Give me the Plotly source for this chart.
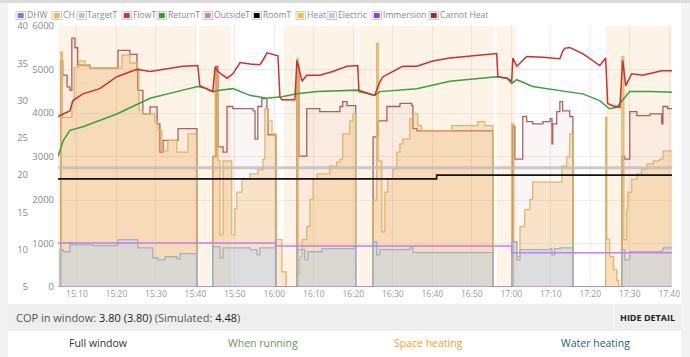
import plotly.graph_objects as go
import pandas as pd

BASE = pd.Timestamp("2024-01-15 15:00:00")

# ---------------- data (time = minutes after 15:00) ----------------
ch_t = [5.2, 40.1, 40.9, 49.0, 62.4, 80.9, 81.4, 115.6, 116.3, 121.1, 143.9, 160.7]
ch_on = [1, 0, 1, 0, 1, 0, 1, 0, 1, 0, 1, 1]

flow_t = [5.2, 5.7, 8.2, 9.0, 11.5, 15.8, 20.1, 25.2, 28.5, 32.8, 36.8, 40.6, 41.1, 44.4, 45.0,
          45.7, 48.0, 49.5, 51.3, 53.8, 56.3, 57.1, 58.1, 60.9, 61.4, 61.9, 65.2, 65.7, 67.0, 68.2,
          71.5, 74.8, 78.4, 81.1, 81.4, 85.4, 86.7, 87.5, 90.0, 92.5, 96.1, 100.1, 104.4, 108.7, 112.8,
          116.3, 116.6, 118.9, 120.1, 120.4, 121.4, 123.9, 128.0, 132.3, 133.0, 133.5, 134.8, 138.1,
          142.4, 143.9, 144.4, 145.7, 147.5, 148.2, 149.0, 150.5, 153.3, 158.1, 160.7]
flow_c = [27.8, 28.0, 28.6, 30.0, 30.9, 31.6, 33.2, 34.2, 33.9, 34.3, 34.6, 34.7, 32.0, 31.2, 34.5,
          33.9, 33.0, 33.6, 35.1, 34.9, 34.8, 35.4, 36.4, 36.0, 30.5, 30.1, 30.1, 35.4, 32.6, 33.4,
          33.4, 33.9, 34.6, 34.7, 31.4, 30.7, 32.5, 33.2, 33.9, 34.6, 34.6, 35.3, 35.7, 35.9, 36.1,
          36.3, 33.2, 33.0, 32.6, 35.7, 34.6, 35.9, 35.8, 35.6, 36.6, 37.0, 37.1, 36.3,
          34.7, 35.7, 29.6, 29.3, 29.1, 35.4, 32.0, 33.6, 33.4, 34.0, 34.0]

ret_t = [5.2, 6.5, 8.2, 11.5, 20.1, 28.5, 36.8, 40.6, 42.9, 44.4, 46.2, 49.5, 53.8, 58.1, 61.9,
         65.7, 70.8, 81.1, 81.4, 85.4, 86.7, 96.1, 104.4, 116.3, 118.9, 120.1, 121.4, 125.4, 134.0,
         138.1, 142.4, 144.9, 146.7, 148.2, 150.0, 155.1, 160.7]
ret_c = [22.5, 24.6, 26.0, 26.5, 28.2, 30.3, 31.4, 31.9, 31.6, 31.2, 31.4, 31.6, 30.7, 30.3, 30.5,
         30.9, 31.2, 31.4, 31.2, 30.7, 31.2, 31.6, 32.6, 33.2, 33.0, 32.3, 32.8, 31.9, 31.2,
         30.9, 30.0, 28.9, 29.1, 30.0, 31.2, 31.2, 31.1]

target_t = [5.2, 160.7]
target_c = [21.0, 21.0]

room_t = [5.2, 101.1, 160.7]
room_c = [19.5, 20.0, 20.0]

out_t = [5.2, 60.4, 120.1, 160.7]
out_c = [10.9, 10.5, 9.6, 9.6]

el_t = [5.2, 5.7, 6.5, 8.2, 8.7, 14.0, 20.1, 20.4, 25.2, 25.4, 29.2, 30.5, 32.3, 35.3, 36.1,
        40.4, 44.4, 46.2, 47.0, 53.8, 55.6, 56.3, 60.4, 65.9, 67.7, 68.5, 72.0, 80.4, 80.6, 85.0,
        85.9, 86.7, 94.3, 95.1, 115.3, 120.1, 121.4, 122.2, 129.8, 130.3, 131.0, 132.3, 135.6, 148.0,
        148.7, 150.0, 158.1, 158.4, 160.7]
el_w = [0, 860, 810, 1020, 970, 950, 970, 1090, 1090, 900, 670, 625, 695, 650, 765,
        0, 930, 670, 900, 860, 740, 900, 0, 860, 625, 810, 880, 930, 0, 1040,
        740, 860, 900, 790, 0, 1040, 625, 860, 880, 740, 880, 900, 0, 860,
        625, 810, 834, 900, 900]

heat_t = [5.2, 5.9, 6.3, 8.7, 9.3, 10.5, 12.0, 13.3, 21.4, 23.4, 25.2, 25.7, 26.7, 29.7, 30.5,
          31.5, 33.0, 35.3, 38.1, 40.4, 44.4, 45.0, 45.7, 46.2, 47.0, 49.2, 50.0, 50.5, 51.8, 53.8,
          55.8, 57.1, 57.6, 58.4, 59.4, 60.4, 61.9, 63.0, 65.7, 66.0, 66.5, 67.0, 68.2, 69.0, 69.8,
          70.8, 74.0, 75.8, 76.6, 77.3, 79.1, 79.9, 80.6, 85.0, 85.9, 86.3, 87.2, 88.0, 88.7, 90.0,
          91.0, 91.8, 92.5, 94.3, 95.1, 96.3, 97.3, 104.9, 111.5, 113.3, 115.3, 120.1, 120.6, 121.4,
          122.2, 123.4, 124.7, 125.4, 132.8, 134.0, 134.8, 135.6, 143.9, 144.2, 144.9, 145.9, 146.7,
          147.2, 148.0, 148.5, 149.2, 149.5, 150.5, 151.8, 153.0, 154.3, 156.0, 157.6, 158.4, 160.7]
heat_w = [0, 5400, 3900, 4250, 5050, 5200, 5080, 5030, 5330, 5150, 5030, 4060, 3980, 3790, 3600,
          3130, 3370, 3100, 3520, 0, 3000, 5000, 2900, 1200, 2900, 1200, 1800, 2180, 2480, 2600,
          2700, 2940, 4100, 3820, 3520, 1090, 350, 0, 5250, 300, 700, 1090, 1390, 2015, 2480,
          2600, 2780, 2870, 2940, 3520, 3820, 3980, 0, 2000, 5600, 2900, 1270, 2180, 2480, 2710,
          3100, 3290, 3400, 3870, 3980, 3710, 3590, 3710, 3800, 3710, 0, 3750, 1040, 700,
          1390, 1780, 2015, 2410, 2780, 2990, 3520, 0, 3900, 1100, 700, 400, 150,
          0, 5300, 1090, 1780, 2180, 2480, 2600, 2710, 2830, 2900, 2940, 3130, 3130]

car_t = [5.2, 5.9, 6.4, 7.5, 8.2, 8.7, 9.5, 10.2, 13.3, 20.4, 23.4, 25.2, 25.4, 26.7, 28.5,
         30.3, 31.0, 31.8, 35.6, 40.4, 44.4, 45.2, 45.7, 47.0, 48.0, 49.5, 54.6, 55.1, 55.8, 56.8,
         58.1, 58.4, 60.4, 65.7, 66.2, 68.2, 71.5, 76.6, 77.3, 78.4, 80.6, 85.0, 86.2, 88.5, 91.8,
         94.8, 95.1, 96.1, 115.3, 120.4, 120.9, 122.9, 123.9, 125.4, 128.0, 129.8, 130.3, 130.5,
         131.5, 132.3, 133.0, 134.8, 135.6, 148.0, 148.7, 150.0, 151.8, 155.1, 158.1, 158.4,
         159.6, 160.7]
car_w = [0, 5200, 4870, 4600, 4520, 5720, 5500, 5100, 5030, 5440, 5350, 4980, 4520, 3980, 4140,
         3750, 3100, 3370, 3640, 0, 3000, 5070, 3220, 3100, 4150, 4100, 4050, 3400, 4150, 4330,
         4100, 3500, 0, 5070, 3010, 4100, 4030, 4150, 4260, 4170, 0, 3450, 3820, 4150, 4220,
         4170, 3640, 3590, 0, 3700, 2940, 3920, 3800, 3750, 3800, 3870, 3290, 3750,
         4030, 4260, 4050, 3920, 0, 3000, 2940, 4030, 3940, 3980, 3750, 4150,
         4100, 4100]

imm_t = [5.2, 160.7]
imm_w = [0, 0]

temp_ticks = [5, 10, 15, 20, 25, 30, 35, 40]
power_ticks = [0, 1000, 2000, 3000, 4000, 5000, 6000]

legend_names = ["DHW", "CH", "TargetT", "FlowT", "ReturnT", "OutsideT", "RoomT",
                "Heat", "Electric", "Immersion", "Carnot Heat"]
legend_colors = ["#6f7fe6", "#f7b462", "#c4c4c4", "#d6322e", "#2aa02a", "#c27bf2", "#000000",
                 "#f2c230", "#a8d2f7", "#8c3cf0", "#a32a2a"]

cop_window = "3.80 (3.80)"
cop_sim = "4.48"
summary_heads = ["Full window", "When running", "Space heating", "Water heating"]
summary_vals = ["3.80 (3.80)", "3.80", "3.80", ""]

# ---------------- layout helpers ----------------
W, H = 690, 357
ML, MR, MT, MB = 0, 18, 26, 70
PW, PH = W - ML - MR, H - MT - MB


def px(x):
    return (x - ML) / PW


def py(y):
    return (H - MB - y) / PH


def X(mins):
    return [BASE + pd.Timedelta(minutes=m) for m in mins]


FONT = "Open Sans"

fig = go.Figure()

# CH background
fig.add_trace(go.Scatter(x=X(ch_t), y=ch_on, yaxis="y", mode="lines",
                         line=dict(width=0, shape="hv"), fill="tozeroy",
                         fillcolor="rgba(247,172,85,0.14)", hoverinfo="skip"))

# power series
fig.add_trace(go.Scatter(x=X(car_t), y=car_w, yaxis="y2", mode="lines",
                         line=dict(color="rgba(160,70,70,0.85)", width=1.3, shape="hv"),
                         fill="tozeroy", fillcolor="rgba(175,70,70,0.05)", hoverinfo="skip"))
fig.add_trace(go.Scatter(x=X(heat_t), y=heat_w, yaxis="y2", mode="lines",
                         line=dict(color="rgba(222,180,100,0.95)", width=1.3, shape="hv"),
                         fill="tozeroy", fillcolor="rgba(240,172,70,0.26)", hoverinfo="skip"))
fig.add_trace(go.Scatter(x=X(el_t), y=el_w, yaxis="y2", mode="lines",
                         line=dict(color="rgba(150,178,200,0.95)", width=1.3, shape="hv"),
                         fill="tozeroy", fillcolor="rgba(178,212,250,0.40)", hoverinfo="skip"))
fig.add_trace(go.Scatter(x=X(imm_t), y=imm_w, yaxis="y2", mode="lines",
                         line=dict(color="rgba(170,130,240,0.7)", width=2), hoverinfo="skip"))

# temperatures
fig.add_trace(go.Scatter(x=X(target_t), y=target_c, yaxis="y3", mode="lines",
                         line=dict(color="rgba(185,185,185,0.75)", width=3), hoverinfo="skip"))
fig.add_trace(go.Scatter(x=X(room_t), y=room_c, yaxis="y3", mode="lines",
                         line=dict(color="#111111", width=1.6, shape="hv"), hoverinfo="skip"))
fig.add_trace(go.Scatter(x=X(out_t), y=out_c, yaxis="y3", mode="lines",
                         line=dict(color="#c47ff0", width=1.6, shape="hv"), hoverinfo="skip"))
fig.add_trace(go.Scatter(x=X(ret_t), y=ret_c, yaxis="y3", mode="lines",
                         line=dict(color="#36a33a", width=1.5), hoverinfo="skip"))
fig.add_trace(go.Scatter(x=X(flow_t), y=flow_c, yaxis="y3", mode="lines",
                         line=dict(color="#d0302c", width=1.5), hoverinfo="skip"))

shapes = []
annotations = []

# page frame
shapes.append(dict(type="rect", xref="paper", yref="paper", x0=px(0), x1=px(8), y0=py(H), y1=py(0),
                   fillcolor="#f3f3f3", line=dict(width=0), layer="below"))
shapes.append(dict(type="rect", xref="paper", yref="paper", x0=px(681), x1=px(W), y0=py(H), y1=py(0),
                   fillcolor="#f3f3f3", line=dict(width=0), layer="below"))
shapes.append(dict(type="rect", xref="paper", yref="paper", x0=px(0), x1=px(W), y0=py(3), y1=py(0),
                   fillcolor="#dcdcdc", line=dict(width=0), layer="below"))
# COP bar
shapes.append(dict(type="rect", xref="paper", yref="paper", x0=px(8), x1=px(681), y0=py(331), y1=py(304),
                   fillcolor="#eeeeee", line=dict(width=0), layer="below"))
shapes.append(dict(type="line", xref="paper", yref="paper", x0=px(614), x1=px(614), y0=py(331), y1=py(304),
                   line=dict(color="#f8f8f8", width=1), layer="below"))

# legend
leg_sq = [16, 52, 77, 122, 157, 203, 252, 296, 327, 372, 429]
for name, col, sx in zip(legend_names, legend_colors, leg_sq):
    shapes.append(dict(type="rect", xref="paper", yref="paper", x0=px(sx), x1=px(sx + 9.5),
                       y0=py(19.5), y1=py(11.5), fillcolor="white", layer="below",
                       line=dict(color="#cccccc", width=1)))
    shapes.append(dict(type="rect", xref="paper", yref="paper", x0=px(sx + 1.8), x1=px(sx + 7.7),
                       y0=py(18), y1=py(13), fillcolor=col, line=dict(width=0), layer="below"))
    annotations.append(dict(xref="paper", yref="paper", x=px(sx + 9.5), y=py(15), text=name,
                            showarrow=False, xanchor="left", yanchor="middle", borderpad=0,
                            font=dict(family=FONT, size=8.6, color="#8a8a8a")))

# COP text
annotations.append(dict(xref="paper", yref="paper", x=px(14), y=py(317.5),
                        text=("COP in window: <span style='color:#222'>" + cop_window +
                              "</span> (Simulated: <span style='color:#222'>" + cop_sim + "</span>)"),
                        showarrow=False, xanchor="left", yanchor="middle",
                        font=dict(family=FONT, size=11, color="#555555")))
annotations.append(dict(xref="paper", yref="paper", x=px(677), y=py(317.5), text="<b>HIDE DETAIL</b>",
                        showarrow=False, xanchor="right", yanchor="middle",
                        font=dict(family=FONT, size=9, color="#222222")))

head_x = [98, 263, 428, 595]
head_col = ["#333333", "#6f8f5e", "#f5a030", "#2c5d86"]
for hx, hname, hcol, hval in zip(head_x, summary_heads, head_col, summary_vals):
    annotations.append(dict(xref="paper", yref="paper", x=px(hx), y=py(342.5), text=hname,
                            showarrow=False, xanchor="center", yanchor="middle", borderpad=0,
                            font=dict(family=FONT, size=10.5, color=hcol)))
    if hval:
        annotations.append(dict(xref="paper", yref="paper", x=px(hx - 2), y=py(349.5), text="<b>" + hval + "</b>",
                                showarrow=False, xanchor="center", yanchor="top", borderpad=0,
                                font=dict(family=FONT, size=15, color=hcol)))

fig.update_layout(
    width=W, height=H,
    margin=dict(l=ML, r=MR, t=MT, b=MB, pad=0, autoexpand=False),
    paper_bgcolor="white", plot_bgcolor="white",
    showlegend=False, hovermode=False,
    font=dict(family=FONT, size=10, color="#888888"),
    xaxis=dict(type="date", domain=[px(58), 1], automargin=False,
               range=[X([5.2])[0], X([160.7])[0]],
               tickformat="%H:%M", dtick=600000, tick0=X([10])[0],
               showgrid=True, gridcolor="#ededed", gridwidth=1,
               zeroline=False, showline=False, ticks="",
               tickfont=dict(family=FONT, size=8.5, color="#9a9a9a")),
    yaxis=dict(range=[0, 1], visible=False, fixedrange=True, automargin=False),
    yaxis2=dict(overlaying="y", side="left", anchor="x", range=[0, 6000], automargin=False,
                tickvals=power_ticks, ticktext=[str(v) for v in power_ticks],
                showgrid=True, gridcolor="#ededed", zeroline=False, showline=False, ticks="",
                ticklabelstandoff=3,
                tickfont=dict(family=FONT, size=9.5, color="#8a8a8a")),
    yaxis3=dict(overlaying="y", side="left", anchor="free", position=px(28), range=[5, 40],
                automargin=False,
                tickvals=temp_ticks, ticktext=[str(v) for v in temp_ticks],
                showgrid=False, zeroline=False, showline=False, ticks="",
                tickfont=dict(family=FONT, size=9.5, color="#8a8a8a")),
    shapes=shapes, annotations=annotations,
)

fig.write_html("out.html", config={"displayModeBar": False},
               post_script="document.body.style.margin='0';document.body.style.padding='0';")
